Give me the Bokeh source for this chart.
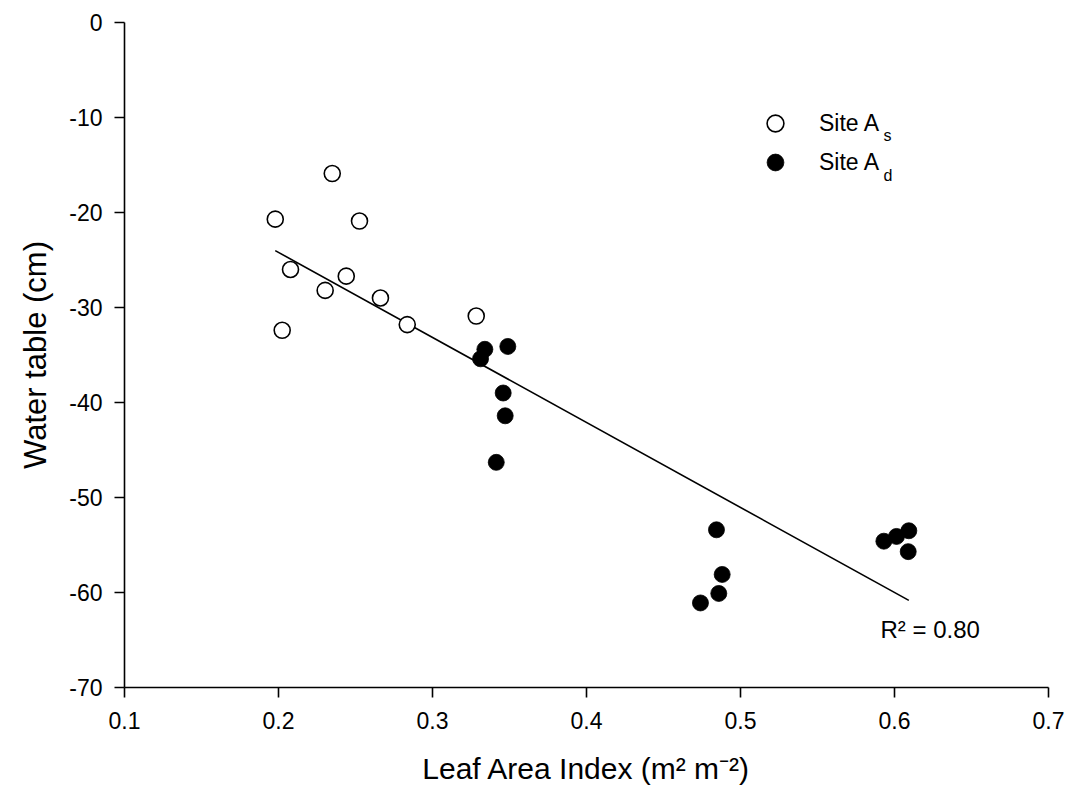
from bokeh.plotting import figure
from bokeh.models import (Range1d, FixedTicker, Legend, LegendItem, Label, Title,
                          ColumnDataSource, NumeralTickFormatter)
from bokeh.embed import file_html
from bokeh.resources import INLINE

# ---- data ----
lai_as = [0.2349, 0.1979, 0.2526, 0.2078, 0.2440, 0.2303, 0.2662, 0.2836, 0.2024, 0.3284]
wt_as = [-15.9, -20.7, -20.9, -26.0, -26.7, -28.2, -29.0, -31.8, -32.4, -30.9]

lai_ad = [0.3340, 0.3312, 0.3489, 0.3459, 0.3472, 0.3414, 0.4844, 0.4881, 0.4859,
          0.4740, 0.5931, 0.6013, 0.6093, 0.6089]
wt_ad = [-34.4, -35.4, -34.1, -39.0, -41.4, -46.3, -53.4, -58.1, -60.1,
         -61.1, -54.6, -54.1, -53.5, -55.7]

fit_slope = -89.5
fit_intercept = -6.3
r2_text = "R\u00b2 = 0.80"
x_title = "Leaf Area Index (m\u00b2 m\u207b\u00b2)"
y_title = "Water table (cm)"

x_ticks = [0.1, 0.2, 0.3, 0.4, 0.5, 0.6, 0.7]
x_tick_labels = ["0.1", "0.2", "0.3", "0.4", "0.5", "0.6", "0.7"]
y_ticks = [0, -10, -20, -30, -40, -50, -60, -70]
y_tick_labels = ["0", "-10", "-20", "-30", "-40", "-50", "-60", "-70"]

FONT = "Liberation Sans"

p = figure(width=1073, height=811, output_backend="svg", toolbar_location=None,
           x_range=Range1d(0.1, 0.7), y_range=Range1d(-70, 0),
           min_border_left=124, min_border_right=25, min_border_top=22,
           min_border_bottom=124)
p.outline_line_color = None
p.grid.visible = False
p.background_fill_color = "white"
p.border_fill_color = "white"

for ax in (p.xaxis[0], p.yaxis[0]):
    ax.axis_line_color = "black"
    ax.axis_line_width = 1.6
    ax.major_tick_line_color = "black"
    ax.major_tick_line_width = 1.6
    ax.major_tick_out = 10
    ax.major_tick_in = 0
    ax.minor_tick_line_color = None
    ax.major_label_text_font = FONT
    ax.major_label_text_font_size = "23px"
    ax.major_label_text_color = "black"

p.xaxis.ticker = FixedTicker(ticks=x_ticks)
p.yaxis.ticker = FixedTicker(ticks=y_ticks)
p.xaxis.formatter = NumeralTickFormatter(format="0.0")
p.yaxis.formatter = NumeralTickFormatter(format="0")
p.xaxis.major_label_overrides = dict(zip(x_ticks, x_tick_labels))
p.yaxis.major_label_overrides = dict(zip(y_ticks, y_tick_labels))
p.xaxis.major_label_standoff = 14
p.yaxis.major_label_standoff = 12

# axis titles (as side titles so they can be nudged like the reference)
p.add_layout(Title(text=x_title, align="center", offset=9, standoff=37,
                   text_font=FONT, text_font_size="30px", text_font_style="normal",
                   text_color="black"), "below")
p.add_layout(Title(text=y_title, align="center", offset=-11, standoff=28,
                   text_font=FONT, text_font_size="31px", text_font_style="normal",
                   text_color="black"), "left")

# regression line over the data range
all_x = lai_as + lai_ad
xf = [min(all_x), max(all_x)]
yf = [fit_intercept + fit_slope * v for v in xf]
p.line(xf, yf, line_color="black", line_width=1.6)

src_as = ColumnDataSource(dict(x=lai_as, y=wt_as))
src_ad = ColumnDataSource(dict(x=lai_ad, y=wt_ad))
r_as = p.scatter("x", "y", source=src_as, size=16, marker="circle",
                 fill_color="white", line_color="black", line_width=1.6)
r_ad = p.scatter("x", "y", source=src_ad, size=16, marker="circle",
                 fill_color="black", line_color="black", line_width=0.8)

def make_legend(label, renderer, vy):
    lg = Legend(items=[LegendItem(label=label, renderers=[renderer])],
                location=(630, vy), glyph_width=42, glyph_height=42,
                label_height=42, label_standoff=23, padding=0, margin=0,
                spacing=0, border_line_color=None, background_fill_alpha=0,
                label_text_font=FONT, label_text_font_size="23px",
                label_text_color="black")
    p.add_layout(lg)

make_legend("Site A", r_as, 543)
make_legend("Site A", r_ad, 504)

p.add_layout(Label(x=759, y=552, x_units="screen", y_units="screen", text="s",
                   text_font=FONT, text_font_size="16px", text_color="black",
                   text_baseline="alphabetic"))
p.add_layout(Label(x=759, y=512, x_units="screen", y_units="screen", text="d",
                   text_font=FONT, text_font_size="16px", text_color="black",
                   text_baseline="alphabetic"))

p.add_layout(Label(x=756, y=58, x_units="screen", y_units="screen", text=r2_text,
                   text_font=FONT, text_font_size="24px", text_color="black",
                   text_baseline="alphabetic"))

open("out.html", "w").write(file_html(p, INLINE))
